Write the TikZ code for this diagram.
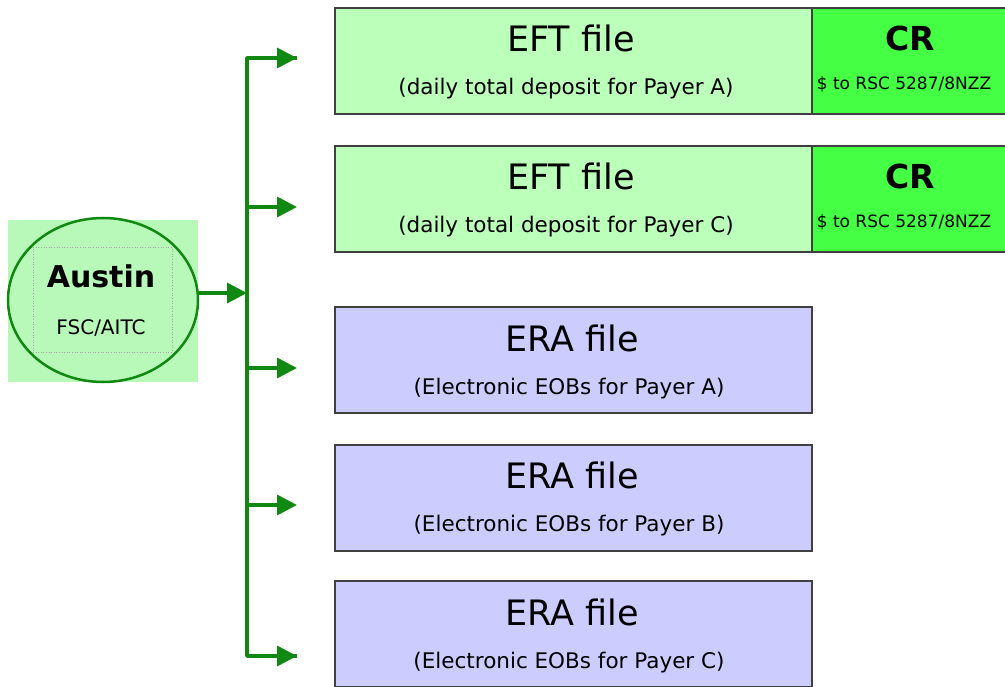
\documentclass[tikz,border=0pt]{standalone}
\usepackage{fontspec}
\setmainfont{DejaVu Sans}
\usetikzlibrary{shapes.geometric,arrows.meta}
\definecolor{eftbg}{HTML}{BBFFBB}
\definecolor{crbg}{HTML}{44FF44}
\definecolor{erabg}{HTML}{CCCCFF}
\definecolor{ausbg}{HTML}{B8F8B8}
\definecolor{arrgreen}{HTML}{118811}
\definecolor{border}{HTML}{404040}
\tikzset{
  filebox/.style={draw=border, line width=2pt, minimum width=477pt, minimum height=106pt, inner sep=0pt},
  crbox/.style={draw=border, line width=2pt, fill=crbg, minimum width=195pt, minimum height=106pt, inner sep=0pt},
  title/.style={font=\fontsize{35}{38}\selectfont, inner sep=0pt},
  subtitle/.style={font=\fontsize{21.5}{24}\selectfont, inner sep=0pt},
  crtitle/.style={font=\bfseries\fontsize{33}{36}\selectfont, inner sep=0pt},
  crsub/.style={font=\fontsize{17}{19}\selectfont, inner sep=0pt},
  conn/.style={draw=arrgreen, line width=3.5pt, line join=round},
  arr/.style={conn, -{Triangle[length=20pt,width=20pt]}}
}
\begin{document}
\begin{tikzpicture}[x=1pt,y=-1pt]
\useasboundingbox (0,0) rectangle (1005,687);
\begin{scope}
\clip (0,0) rectangle (1005,687);
% Austin
\node[fill=ausbg, minimum width=190pt, minimum height=162pt, inner sep=0pt] (ausbg) at (103,301) {};
\node[ellipse, draw=arrgreen, line width=2.5pt, fill=ausbg, minimum width=190pt, minimum height=164pt, inner sep=0pt] (aus) at (103,300) {};
\node[draw=gray!70, dotted, line width=0.6pt, minimum width=139pt, minimum height=105pt, inner sep=0pt] (ausin) at (102.5,299.5) {};
\node[font=\bfseries\fontsize{30}{33}\selectfont, inner sep=0pt] (austxt) at (101,276) {Austin};
\node[font=\fontsize{20}{22}\selectfont, inner sep=0pt] (fsctxt) at (101,328) {FSC/AITC};
% EFT boxes
\node[filebox, fill=eftbg] (eft1) at (573.5,61.5) {};
\node[crbox] (cr1) at (909.5,61.5) {};
\node[filebox, fill=eftbg] (eft2) at (573.5,199) {};
\node[crbox] (cr2) at (909.5,199) {};
% ERA boxes
\node[filebox, fill=erabg] (era1) at (573.5,360) {};
\node[filebox, fill=erabg] (era2) at (573.5,497.5) {};
\node[filebox, fill=erabg] (era3) at (573.5,634) {};
\end{scope}
% texts
\node[title] (eft1t) at (571,38) {EFT file};
\node[subtitle] (eft1s) at (566,89) {(daily total deposit for Payer A)};
\node[crtitle] (cr1t) at (910,38) {CR};
\node[crsub] (cr1s) at (904,84) {\$ to RSC 5287/8NZZ};
\node[title] (eft2t) at (571,176) {EFT file};
\node[subtitle] (eft2s) at (566,227) {(daily total deposit for Payer C)};
\node[crtitle] (cr2t) at (910,176) {CR};
\node[crsub] (cr2s) at (904,222) {\$ to RSC 5287/8NZZ};
\node[title] (era1t) at (572,338) {ERA file};
\node[subtitle] (era1s) at (569,389) {(Electronic EOBs for Payer A)};
\node[title] (era2t) at (572,475) {ERA file};
\node[subtitle] (era2s) at (569,526) {(Electronic EOBs for Payer B)};
\node[title] (era3t) at (572,612) {ERA file};
\node[subtitle] (era3s) at (569,663) {(Electronic EOBs for Payer C)};
% connectors
\coordinate (j) at (247,293);
\coordinate (b1) at (247,58);
\coordinate (b2) at (247,207);
\coordinate (b3) at (247,368);
\coordinate (b4) at (247,505);
\coordinate (b5) at (247,656);
\coordinate (e1) at (297,58);
\coordinate (e2) at (297,207);
\coordinate (e3) at (297,368);
\coordinate (e4) at (297,505);
\coordinate (e5) at (297,656);
\draw[conn] (e1) -- (b1) -- (b5) -- (e5);
\draw[arr] (b1) -- (e1);
\draw[arr] (b2) -- (e2);
\draw[arr] (b3) -- (e3);
\draw[arr] (b4) -- (e4);
\draw[arr] (b5) -- (e5);
\draw[arr] ([yshift=7pt]aus.east) -- (j);
\end{tikzpicture}
\end{document}
